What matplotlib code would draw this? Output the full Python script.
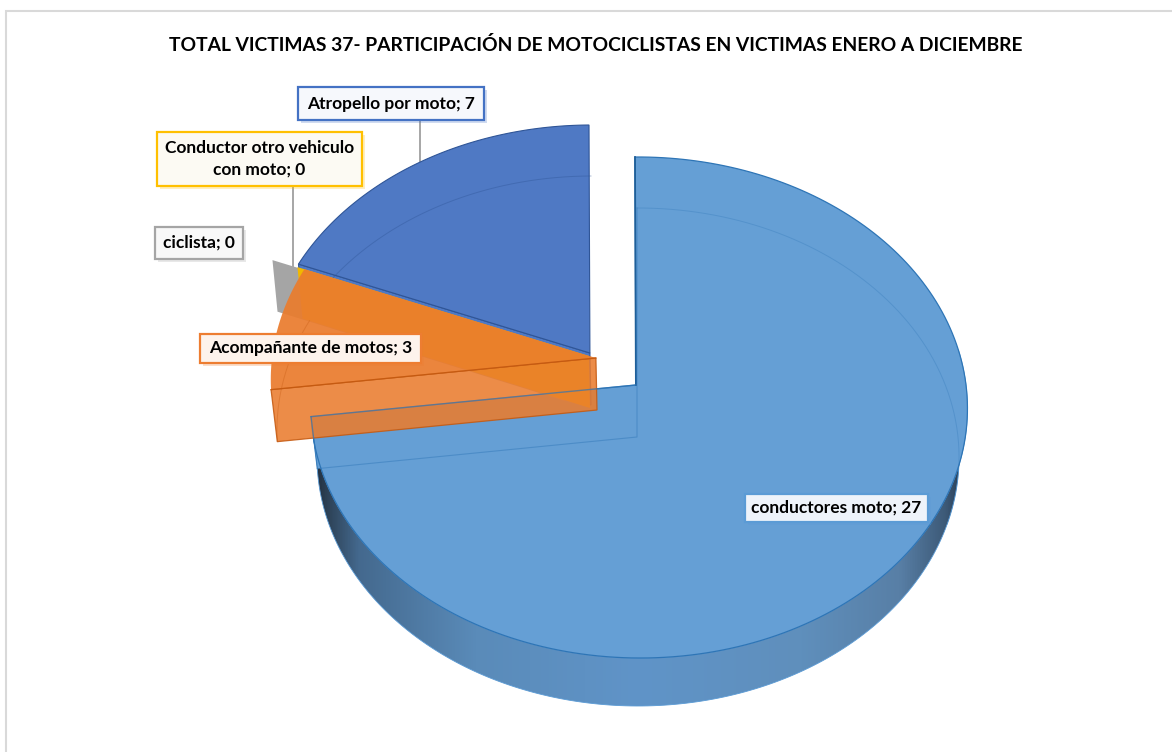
import matplotlib
matplotlib.use("Agg")
import matplotlib.pyplot as plt
import matplotlib.patheffects as pe
from matplotlib.colors import LinearSegmentedColormap
from matplotlib.patches import Polygon, Rectangle
import numpy as np

title = "TOTAL VICTIMAS 37- PARTICIPACIÓN DE MOTOCICLISTAS EN VICTIMAS ENERO A DICIEMBRE"
categories = ["conductores moto", "Acompañante de motos", "ciclista", "Conductor otro vehiculo\ncon moto", "Atropello por moto"]
values = [27, 3, 0, 0, 7]

colors = ["#659FD5", "#EA7C2E", "#A5A5A5", "#F2B800", "#4F79C4"]
edges = ["#2E75B6", "#C55A11", "#8C8C8C", "#D9A300", "#2F5597"]
# how far each slice is pulled out of the pie, in pixels
offsets = [(0, 0), (-40, -27), (-72, -36), (-47, -29), (-46, -32)]
# label box: left, top, right, bottom
boxes = [(745, 494, 928, 522), (200, 334, 421, 363), (155, 227, 243, 259), (157, 132, 362, 186), (298, 87, 484, 120)]
box_fill = ["#EEF3FA", "#FDF3EC", "#F8F8F8", "#FCFAF3", "#F6F8FC"]
box_edge = ["#5B9BD5", "#ED7D31", "#A5A5A5", "#FFC000", "#4472C4"]

W, H = 1172, 752
fig = plt.figure(figsize=(W / 100, H / 100), dpi=100)
ax = fig.add_axes([0, 0, 1, 1])


def homography(dst):
    # unit circle points top, right, bottom, left go to dst
    src = [(0, 1), (1, 0), (0, -1), (-1, 0)]
    A, b = [], []
    for (x, y), (u, v) in zip(src, dst):
        A.append([x, y, 1, 0, 0, 0, -u * x, -u * y])
        A.append([0, 0, 0, x, y, 1, -v * x, -v * y])
        b += [u, v]
    return np.append(np.linalg.solve(np.array(A, float), np.array(b, float)), 1).reshape(3, 3)


top_h = homography([(635, 157), (966, 385), (637, 658), (312, 385)])
bot_h = homography([(637, 208), (958, 437), (637, 706), (318, 437)])


def project(h, theta, r=1.0, off=(0, 0)):
    t = np.radians(np.atleast_1d(theta))
    p = np.vstack([r * np.cos(t), r * np.sin(t), np.ones_like(t)])
    q = h @ p
    return np.column_stack([q[0] / q[2] + off[0], q[1] / q[2] + off[1]])


def arc(h, t1, t2, off=(0, 0)):
    return project(h, np.linspace(t1, t2, 200), off=off)


def apex(h, off=(0, 0)):
    return project(h, 0.0, r=0.0, off=off)


def wall(theta, off):
    return np.vstack([project(top_h, theta, off=off), apex(top_h, off), apex(bot_h, off), project(bot_h, theta, off=off)])


# the pie itself only gives the slice angles
helper = fig.add_axes([0, 0, 0.01, 0.01])
wedges, _ = helper.pie(values, startangle=90, counterclock=False)
angles = [(w.theta1, w.theta2) for w in wedges]
helper.remove()

# chart frame
ax.add_patch(Rectangle((6, 11), W, H, fc="white", ec="#D9D9D9", lw=1.5, zorder=0))

# outer side of the big slice
t1, t2 = angles[0]
side = np.vstack([arc(top_h, t1, 8), arc(bot_h, 8, t1)])
side_cmap = LinearSegmentedColormap.from_list("side", [
    (0.0, "#1E2B3A"), (0.02, "#2C4054"), (0.07, "#44698E"), (0.25, "#5A8BB9"), (0.5, "#6094C8"),
    (0.75, "#5F8FBC"), (0.9, "#587FA6"), (0.97, "#3D5A78"), (1.0, "#25384D")])
grad = ax.imshow(np.linspace(0, 1, 256).reshape(1, -1), cmap=side_cmap, aspect="auto",
                 extent=(312, 966, 720, 400), zorder=1)
side_patch = Polygon(side, closed=True, fc="none", ec="#5B9BD5", lw=0.6, zorder=1.1)
ax.add_patch(side_patch)
grad.set_clip_path(side_patch)

# big slice
off = offsets[0]
ax.add_patch(Polygon(wall(t1, off), closed=True, fc=colors[0], ec="none", zorder=2))
ax.add_patch(Polygon(np.vstack([apex(top_h, off), arc(top_h, t1, t2, off)]), closed=True,
                     fc=colors[0], ec=edges[0], lw=0.9, zorder=2.1))
ax.plot(*np.vstack([project(top_h, t2, off=off), apex(top_h, off)]).T, color="#1F5F99", lw=1.3, zorder=2.2)
ax.plot(*arc(bot_h, t2, -20).T, color=edges[0], lw=0.7, alpha=0.3, zorder=2.2)
ax.plot(*np.vstack([project(bot_h, t1), apex(bot_h), project(bot_h, t2)]).T, color=edges[0], lw=0.8, alpha=0.45, zorder=2.2)

# atropello, its cut wall is on the lower edge
t1, t2 = angles[4]
off = offsets[4]
ax.add_patch(Polygon(wall(t2, off), closed=True, fc=colors[4], ec=edges[4], lw=0.8, zorder=3))
ax.add_patch(Polygon(np.vstack([apex(top_h, off), arc(top_h, t1, t2, off)]), closed=True,
                     fc=colors[4], ec=edges[4], lw=0.8, zorder=3.1))
ax.plot(*arc(bot_h, t1, t2, off).T, color=edges[4], lw=0.7, alpha=0.4, zorder=3.2)

# zero slices only show their cut wall
for i in (2, 3):
    ax.add_patch(Polygon(wall(angles[i][0], offsets[i]), closed=True, fc=colors[i], ec="none", zorder=4 + i * 0.1))

# acompañante
t1, t2 = angles[1]
off = offsets[1]
ax.add_patch(Polygon(wall(t2, off), closed=True, fc=colors[1], ec=edges[1], lw=0.9, alpha=0.88, zorder=5))
ax.add_patch(Polygon(np.vstack([apex(top_h, off), arc(top_h, t1, t2, off)]), closed=True,
                     fc=colors[1], ec="none", alpha=0.93, zorder=5.1))
ax.plot(*np.vstack([project(top_h, t2, off=off), apex(top_h, off)]).T, color=edges[1], lw=0.9, zorder=5.2)
ax.plot(*arc(bot_h, t1, t2, off).T, color=edges[1], lw=0.7, alpha=0.35, zorder=5.2)

# front cut edge of the big slice shows through the orange
t1 = angles[0][0]
ax.plot(*np.vstack([project(top_h, t1), apex(top_h)]).T, color=edges[0], lw=1.0, alpha=0.7, zorder=5.3)
ax.plot(*np.vstack([project(top_h, t1), project(bot_h, t1)]).T, color=edges[0], lw=0.9, alpha=0.7, zorder=5.3)

# leader lines
ax.plot([420, 420], [120, 163], color="#A6A6A6", lw=1.4, zorder=1.5)
ax.plot([293, 293], [186, 266], color="#A6A6A6", lw=1.4, zorder=1.5)

# labels
for name, val, box, fc, ec in zip(categories, values, boxes, box_fill, box_edge):
    x0, y0, x1, y1 = box
    rect = Rectangle((x0, y0), x1 - x0, y1 - y0, fc=fc, ec=ec, lw=1.6, zorder=8)
    rect.set_path_effects([pe.SimplePatchShadow(offset=(2, -2), shadow_rgbFace=ec, alpha=0.25), pe.Normal()])
    ax.add_patch(rect)
    ax.text((x0 + x1) / 2, (y0 + y1) / 2, f"{name}; {val}", ha="center", va="center", fontsize=12.5,
            fontweight="bold", family="Lato", color="black", zorder=9, linespacing=1.4)

ax.text(596, 45, title, ha="center", va="center", fontsize=13.9, fontweight="bold", family="Lato", color="black")

ax.set_xlim(0, W)
ax.set_ylim(H, 0)
ax.axis("off")
fig.savefig("out.png", dpi=100)
